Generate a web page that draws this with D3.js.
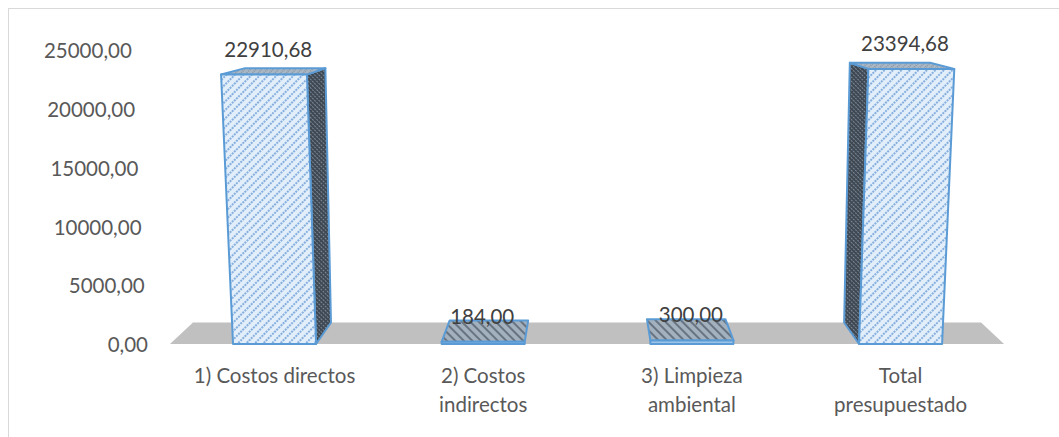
<!DOCTYPE html>
<html>
<head>
<meta charset="utf-8">
<script src="https://cdn.jsdelivr.net/npm/d3@7"></script>
<style>
  html, body { margin: 0; padding: 0; background: #fff; }
  svg { display: block; }
  text { font-family: Lato, "Open Sans", "Liberation Sans", sans-serif; }
</style>
</head>
<body>
<svg id="chart" width="1059" height="437"></svg>
<script>
// ---- data ----
const categories = ["1) Costos directos", "2) Costos indirectos", "3) Limpieza ambiental", "Total presupuestado"];
const values = [22910.68, 184.00, 300.00, 23394.68];
const valueLabels = ["22910,68", "184,00", "300,00", "23394,68"];
const tickValues = [0, 5000, 10000, 15000, 20000, 25000];
const tickLabels = ["0,00", "5000,00", "10000,00", "15000,00", "20000,00", "25000,00"];

const W = 1059, H = 437;
const svg = d3.select("#chart");
const FS = 20.5;

// scales
const y = d3.scaleLinear().domain([0, 25000]).range([344, 50]);
const x = d3.scaleBand().domain(categories).range([170.2, 1004.9]).paddingInner(0.602).paddingOuter(0.301);

// perspective projection helper (front-bottom screen x, pixel height, depth 0..1)
const cx = 587.5, base = y(0);
const shear = 1.25e-4;
function proj(X, h, z) {
  const xf = cx + (X - cx) * (1 + shear * h);
  const D = 21.5 * (1 - h / 384);
  const k = 0.055 + 0.00004 * h;
  return [xf + z * k * (cx - xf), base - h - z * D];
}

// defs: patterns
const defs = svg.append("defs");
function hatch(id, bg, stroke, angle, gap, sw, dash) {
  const p = defs.append("pattern").attr("id", id).attr("patternUnits", "userSpaceOnUse")
    .attr("width", gap).attr("height", gap).attr("patternTransform", `rotate(${angle})`);
  p.append("rect").attr("width", gap).attr("height", gap).attr("fill", bg);
  const l = p.append("line").attr("x1", gap / 2).attr("y1", 0).attr("x2", gap / 2).attr("y2", gap)
    .attr("stroke", stroke).attr("stroke-width", sw);
  if (dash) l.attr("stroke-dasharray", dash);
}
hatch("front", "#e2eefa", "#6fa0d8", 45, 6, 1.6, "2,1");
hatch("side", "#3e4853", "#7d8896", -45, 3, 1, "1,1");
hatch("topBig", "#aab8c6", "#6c7b8a", 45, 4, 1, "1,1");
hatch("topSmall", "#a3b0bd", "#4d5966", -45, 6, 1.4, null);

// chart frame
svg.append("rect").attr("x", 8.5).attr("y", 8.5).attr("width", 1200).attr("height", 600)
  .attr("fill", "none").attr("stroke", "#d9d9d9").attr("stroke-width", 1);

// floor
const fl = 170, fr = 1004;
const floorPts = [proj(fl, 0, 0), proj(fl, 0, 1), proj(fr, 0, 1), proj(fr, 0, 0)];
svg.append("polygon").attr("points", floorPts.map(p => p.join(",")).join(" ")).attr("fill", "#c0c0c0");

// bars
const barsG = svg.append("g");
const outline = "#5b9bd5";
categories.forEach((c, i) => {
  const x0 = x(c), x1 = x(c) + x.bandwidth();
  const h = base - y(values[i]);
  const g = barsG.append("g");
  const poly = (pts, fill) => g.append("polygon").attr("points", pts.map(p => p.join(",")).join(" "))
    .attr("fill", fill).attr("stroke", outline).attr("stroke-width", 2).attr("stroke-linejoin", "round");
  const center = x0 + x.bandwidth() / 2;
  const sx = center < cx ? x1 : x0;
  const small = h < 10;
  if (!small) poly([proj(sx, 0, 0), proj(sx, h, 0), proj(sx, h, 1), proj(sx, 0, 1)], "url(#side)");
  poly([proj(x0, h, 0), proj(x0, h, 1), proj(x1, h, 1), proj(x1, h, 0)], small ? "url(#topSmall)" : "url(#topBig)");
  if (!small) poly([proj(x0, 0, 0), proj(x0, h, 0), proj(x1, h, 0), proj(x1, 0, 0)], "url(#front)");
  else poly([proj(x0, 0, 0), proj(x0, h, 0), proj(x1, h, 0), proj(x1, 0, 0)], "#9dc3e6");
  const ft = (proj(x0, h, 0)[0] + proj(x1, h, 0)[0]) / 2;
  svg.append("text").attr("x", (center + ft) / 2 - 1).attr("y", y(values[i]) - 18)
    .attr("text-anchor", "middle").attr("font-size", FS).attr("fill", "#404040").text(valueLabels[i]);
});

// y axis tick labels (following perspective of the left edge)
tickValues.forEach((v, i) => {
  const h = base - y(v);
  const p = proj(148, h, 0);
  svg.append("text").attr("x", p[0]).attr("y", y(v) + 1).attr("dy", "0.35em")
    .attr("text-anchor", "end").attr("font-size", FS).attr("fill", "#595959").text(tickLabels[i]);
});

// category labels with wrapping
categories.forEach(c => {
  const cxl = x(c) + x.bandwidth() / 2;
  const t = svg.append("text").attr("x", cxl).attr("y", 383)
    .attr("text-anchor", "middle").attr("font-size", FS).attr("fill", "#595959");
  const words = c.split(" ");
  let line = [];
  let ts = t.append("tspan").attr("x", cxl).attr("dy", 0);
  words.forEach(w => {
    line.push(w);
    ts.text(line.join(" "));
    if (ts.node().getComputedTextLength() > 168 && line.length > 1) {
      line.pop();
      ts.text(line.join(" "));
      line = [w];
      ts = t.append("tspan").attr("x", cxl).attr("dy", 29).text(w);
    }
  });
});
</script>
</body>
</html>
